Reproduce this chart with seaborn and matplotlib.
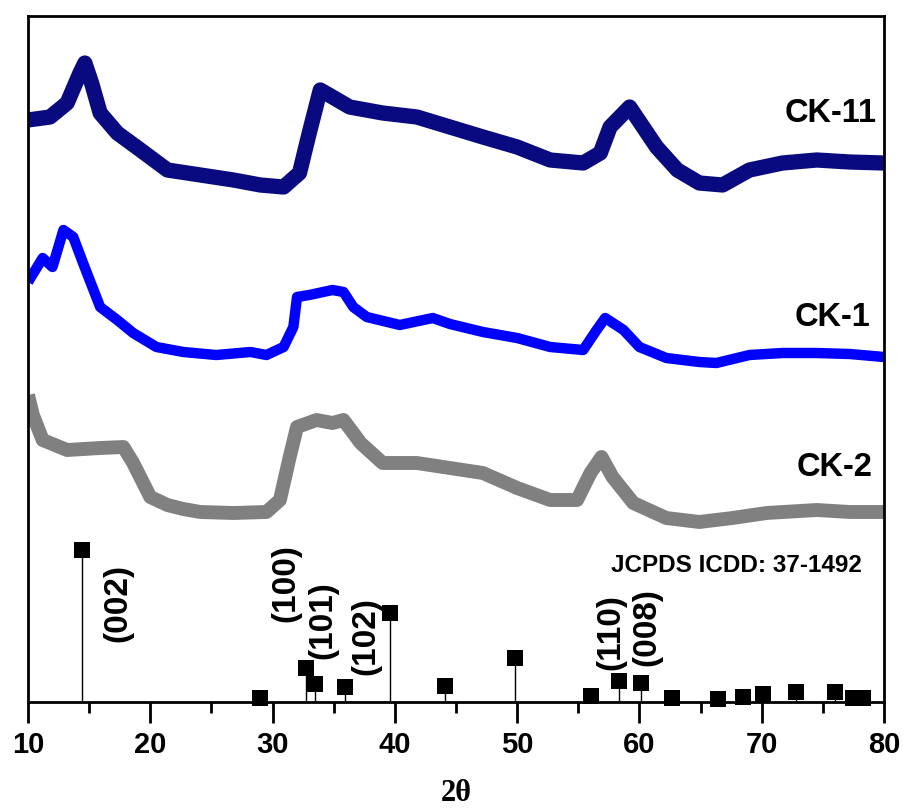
import matplotlib
matplotlib.use("Agg")
import matplotlib.pyplot as plt
import seaborn as sns
import pandas as pd
from matplotlib.ticker import MultipleLocator

# ---------------- data (intensity in a.u.) ----------------
theta_ck11 = [10.0, 11.8, 13.2, 14.25, 14.65, 15.2, 15.9, 17.3, 19.2, 21.4, 24.1, 26.8,
              29.0, 30.9, 32.2, 33.0, 33.9, 34.9, 36.3, 39.0, 41.8, 44.5, 47.2, 50.0,
              52.7, 55.4, 56.8, 57.6, 59.2, 60.3, 61.4, 63.1, 64.9, 66.8, 69.0, 71.7,
              74.5, 77.2, 80.0]
int_ck11 = [582, 585, 599, 629, 639, 619, 589, 569, 552, 532, 527, 522,
            517, 515, 529, 569, 612, 605, 595, 589, 585, 575, 565, 555,
            542, 539, 549, 575, 595, 575, 555, 532, 519, 517, 532, 539,
            542, 540, 539]

theta_ck1 = [10.0, 11.2, 12.0, 12.9, 13.7, 14.5, 15.9, 17.3, 18.6, 20.5, 22.7, 25.4,
             28.2, 29.5, 30.9, 31.7, 32.0, 33.0, 34.9, 35.8, 36.6, 37.7, 40.4, 43.1,
             44.5, 47.2, 50.0, 52.7, 55.4, 56.5, 57.2, 58.7, 60.0, 62.2, 64.9, 66.3,
             69.0, 71.7, 74.5, 77.2, 80.0]
int_ck1 = [420, 444, 435, 472, 465, 439, 395, 382, 369, 355, 350, 347,
           350, 347, 355, 375, 405, 407, 412, 410, 395, 385, 377, 384,
           378, 370, 364, 355, 352, 372, 384, 372, 355, 344, 340, 339,
           347, 349, 349, 348, 345]

theta_ck2 = [10.0, 10.4, 11.2, 13.2, 15.9, 17.8, 18.6, 20.0, 21.4, 22.7, 24.1, 26.8,
             29.5, 30.6, 31.4, 32.0, 33.6, 34.9, 35.8, 37.2, 39.0, 41.8, 44.5, 47.2,
             50.0, 52.7, 54.9, 56.0, 56.9, 57.8, 59.5, 62.2, 64.9, 67.6, 70.4, 74.5,
             77.2, 80.0]
int_ck2 = [307, 287, 262, 252, 254, 255, 239, 205, 197, 193, 190, 189,
           190, 202, 245, 275, 282, 279, 282, 259, 239, 239, 234, 229,
           214, 202, 202, 229, 245, 225, 199, 184, 180, 184, 189, 192,
           190, 190]

ref_theta = [14.4, 29.0, 32.7, 33.5, 35.9, 39.6, 44.1, 49.8, 56.0, 58.3, 60.1,
             62.7, 66.4, 68.5, 70.1, 72.8, 76.0, 77.5, 78.3]
ref_int = [152, 4, 34, 18, 15, 89, 16, 44, 6, 21, 19,
           4, 3, 5, 8, 10, 10, 4, 4]

hkl_labels = ["(002)", "(100)", "(101)", "(102)", "(110)", "(008)"]
hkl_x = [17.36, 31.1, 34.1, 37.6, 57.7, 60.6]
hkl_y = [99, 119, 82, 66, 70, 75]

sample_names = ["CK-11", "CK-1", "CK-2"]
sample_label_x = [79.4, 78.85, 79.1]
sample_label_y = [589, 385, 234]
sample_colors = ["#0a0a80", "#0000ff", "#808080"]

ref_caption = "JCPDS ICDD: 37-1492"
x_ticks = [10, 20, 30, 40, 50, 60, 70, 80]

# ---------------- figure ----------------
sns.set_theme(style="white")
plt.rcParams["font.family"] = ["Liberation Sans", "DejaVu Sans"]
plt.rcParams["text.color"] = "black"
plt.rcParams["axes.labelcolor"] = "black"
plt.rcParams["xtick.color"] = "black"
plt.rcParams["xtick.labelcolor"] = "black"

fig = plt.figure(figsize=(9.04, 8.10), dpi=100)
ax = fig.add_axes([28 / 904, 108 / 810, (884 - 28) / 904, (702 - 16) / 810])

traces = [(theta_ck11, int_ck11, 11.0), (theta_ck1, int_ck1, 7.5), (theta_ck2, int_ck2, 10.0)]
for (tx, ty, lw), col in zip(traces, sample_colors):
    df = pd.DataFrame({"2theta": tx, "I": ty})
    sns.lineplot(data=df, x="2theta", y="I", ax=ax, color=col, linewidth=lw,
                 solid_joinstyle="round", solid_capstyle="butt", estimator=None, sort=False)

# reference stick pattern
ax.vlines(ref_theta, 0, ref_int, color="black", linewidth=1.0, zorder=3)
ref_df = pd.DataFrame({"2theta": ref_theta, "I": ref_int})
sns.scatterplot(data=ref_df, x="2theta", y="I", ax=ax, marker="s", s=135, color="black",
                edgecolor="black", linewidth=0, zorder=4, clip_on=False)

for lab, hx, hy in zip(hkl_labels, hkl_x, hkl_y):
    ax.text(hx, hy, lab, rotation=90, ha="center", va="center", fontsize=24,
            fontweight="bold", color="black")

ax.text(78.2, 137, ref_caption, ha="right", va="center", fontsize=17.5,
        fontweight="bold", color="black")

for name, lx, ly in zip(sample_names, sample_label_x, sample_label_y):
    ax.text(lx, ly, name, ha="right", va="center", fontsize=23.5, fontweight="bold",
            color="black")

ax.set_xlim(10, 80)
ax.set_ylim(0, 686)
ax.set_xticks(x_ticks)
ax.xaxis.set_minor_locator(MultipleLocator(5))
ax.set_yticks([])
ax.set_ylabel("")
ax.set_xlabel("2θ", fontsize=22, fontweight="bold", color="black",
              family=["Liberation Serif", "DejaVu Serif"], labelpad=14)
ax.tick_params(axis="x", which="major", direction="out", length=15, width=2,
               labelsize=21, pad=6, bottom=True, color="black", labelcolor="black")
ax.tick_params(axis="x", which="minor", direction="out", length=8, width=2, bottom=True,
               color="black")
for lab in ax.get_xticklabels():
    lab.set_fontweight("bold")
for sp in ax.spines.values():
    sp.set_visible(True)
    sp.set_color("black")
    sp.set_linewidth(2)

fig.savefig("out.png", dpi=100, facecolor="white")
